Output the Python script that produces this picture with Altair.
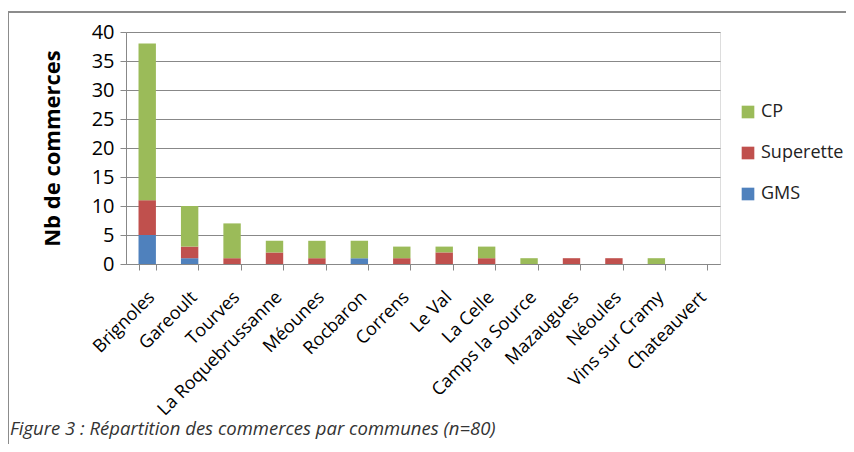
import altair as alt
import pandas as pd

communes = ["Brignoles", "Gareoult", "Tourves", "La Roquebrussanne", "Méounes",
            "Rocbaron", "Correns", "Le Val", "La Celle", "Camps la Source",
            "Mazaugues", "Néoules", "Vins sur Cramy", "Chateauvert"]
gms = [5, 1, 0, 0, 0, 1, 0, 0, 0, 0, 0, 0, 0, 0]
superette = [6, 2, 1, 2, 1, 0, 1, 2, 1, 0, 1, 1, 0, 0]
cp = [27, 7, 6, 2, 3, 3, 2, 1, 2, 1, 0, 0, 1, 0]
series = ["CP", "Superette", "GMS"]
colors = ["#9BBB59", "#C0504D", "#4F81BD"]
caption = "Figure 3 : Répartition des commerces par communes (n=80)"

rows = []
for i, c in enumerate(communes):
    rows.append({"commune": c, "type": "GMS", "n": gms[i], "ord": 0})
    rows.append({"commune": c, "type": "Superette", "n": superette[i], "ord": 1})
    rows.append({"commune": c, "type": "CP", "n": cp[i], "ord": 2})
df = pd.DataFrame(rows)

FONT = "Open Sans"

bars = alt.Chart(df).mark_bar().encode(
    x=alt.X("commune:N", sort=communes, title=None,
            scale=alt.Scale(paddingInner=0.59, paddingOuter=0.295),
            axis=alt.Axis(labelAngle=-45, labelFontSize=18, labelFont=FONT,
                          labelColor="#000", tickBand="extent", tickSize=6,
                          tickColor="#888", domainColor="#888", labelPadding=18,
                          labelOffset=-2, grid=False)),
    y=alt.Y("n:Q", stack="zero", title="Nb de commerces",
            scale=alt.Scale(domain=[0, 40], nice=False),
            axis=alt.Axis(values=[0, 5, 10, 15, 20, 25, 30, 35, 40],
                          labelFontSize=20, labelFont=FONT, labelColor="#000",
                          labelPadding=6,
                          titleFontSize=22, titleFont=FONT, titleFontWeight="bold",
                          titleColor="#000", titlePadding=27, tickSize=6,
                          tickColor="#888", domainColor="#888",
                          gridColor="#888", gridWidth=1)),
    color=alt.Color("type:N", scale=alt.Scale(domain=series, range=colors),
                    legend=alt.Legend(title=None, orient="none", legendX=613, legendY=71,
                                      symbolType="square", symbolSize=160,
                                      symbolStrokeWidth=0,
                                      labelFontSize=18, labelFont=FONT, labelColor="#222",
                                      rowPadding=23, labelOffset=4)),
    order=alt.Order("ord:Q", sort="ascending"),
)

frame_df = pd.DataFrame({"k": [0]})
top_line = alt.Chart(frame_df).mark_rule(stroke="#8c8c8c", strokeWidth=2).encode(
    x=alt.value(-118), x2=alt.value(740), y=alt.value(-20))
left_line = alt.Chart(frame_df).mark_rule(stroke="#8c8c8c", strokeWidth=2).encode(
    x=alt.value(-118), y=alt.value(-21), y2=alt.value(440))

cap = alt.Chart(pd.DataFrame({"t": [caption]})).mark_text(
    align="left", baseline="middle", font=FONT, fontSize=18.5, fontStyle="italic",
    color="#333"
).encode(text="t:N", x=alt.value(-116), y=alt.value(397))

chart = alt.layer(top_line, left_line, bars, cap).properties(
    width=594, height=232,
    autosize=alt.AutoSizeParams(type="none"),
    padding={"left": 118, "top": 24, "right": 126, "bottom": 180},
).configure_view(stroke=None).configure(background="white")

chart.save("out.html", embed_options={"renderer": "svg", "actions": False})
